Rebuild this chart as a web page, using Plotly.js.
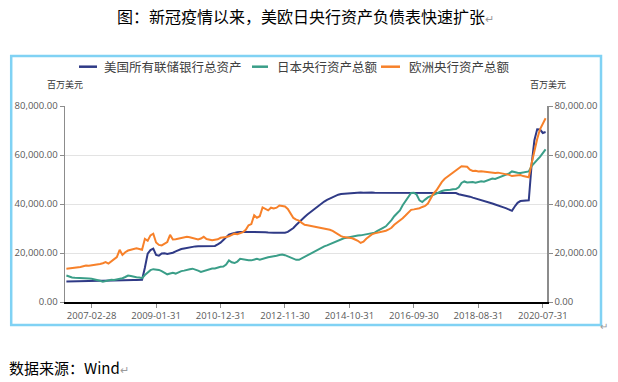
<!DOCTYPE html>
<html><head><meta charset="utf-8">
<script src="https://cdn.plot.ly/plotly-3.0.1.min.js"></script>
<style>html,body{margin:0;padding:0;background:#fff;}#chart{width:618px;height:382px;}</style>
</head><body><div id="chart"></div>
<script>
// Month-end categories 2006-05 .. 2020-08
const months = [];
for (let y = 2006, m = 5; !(y === 2020 && m === 9);) {
  const last = new Date(Date.UTC(y, m, 0)).getUTCDate();
  months.push(y + '-' + String(m).padStart(2, '0') + '-' + String(last).padStart(2, '0'));
  m++; if (m > 12) { m = 1; y++; }
}
const tickLabels = ['2007-02-28','2009-01-31','2010-12-31','2012-11-30','2014-10-31','2016-09-30','2018-08-31','2020-07-31'];
const yTicks = [0, 20000, 40000, 60000, 80000];

const seriesNames = ['美国所有联储银行总资产', '日本央行资产总额', '欧洲央行资产总额'];

const fed = [
  8400, 8450, 8450, 8500, 8500, 8500, 8550, 8600,
  8550, 8600, 8650, 8650, 8700, 8700, 8750, 8800, 8800, 8850, 8850, 8900,
  8900, 8900, 8950, 8950, 9000, 9000, 9050, 9100, 14000, 19700, 21200, 21800,
  19200, 18900, 19800, 19900, 19600, 19700, 20100, 20700, 21300, 21600, 21800, 22100,
  22300, 22500, 22700, 22800, 22800, 22900, 22800, 22800, 22900, 22900, 23500, 24200,
  25300, 26500, 27500, 27900, 28300, 28500, 28600, 28600, 28700, 28600, 28700, 28800,
  28700, 28800, 28600, 28500, 28400, 28500, 28300, 28300, 28200, 28200, 28300, 28600,
  29300, 30200, 31400, 32600, 33600, 34700, 35700, 36600, 37500, 38500, 39500, 40300,
  41000, 41700, 42300, 42800, 43400, 43800, 44100, 44200, 44400, 44500, 44600, 44600,
  44700, 44700, 44600, 44700, 44700, 44700, 44600, 44600, 44700, 44600, 44600, 44700,
  44600, 44700, 44600, 44600, 44700, 44600, 44600, 44700, 44600, 44600, 44600, 44600,
  44600, 44700, 44700, 44700, 44700, 44700, 44700, 44700, 44600, 44600, 44500, 44500,
  44000, 43800, 43600, 43300, 43000, 42600, 42300, 41900, 41500, 41100, 40800, 40500,
  40200, 39800, 39300, 38900, 38600, 38200, 37800, 37200, 39000, 40500, 41200, 41300,
  41200, 41500, 56000, 66000, 70500, 70400, 69000, 69400
];
const boj = [
  10800, 10300, 10000, 9900, 9900, 9800, 9900, 9700,
  9600, 9500, 9300, 9000, 8700, 8300, 8600, 9000, 9100, 9000, 9200, 9500,
  9700, 10200, 10800, 10600, 10200, 10100, 10000, 9700, 11000, 12200, 13000, 13400,
  13300, 13100, 12600, 11800, 11300, 11600, 11900, 11600, 12200, 12600, 12800, 13200,
  13400, 13600, 13300, 12800, 12300, 12600, 13100, 13500, 13700, 13700, 14100, 14400,
  14500, 15300, 17000, 16200, 15900, 16500, 17600, 17400, 16900, 17000, 17000, 17400,
  17600, 17300, 17700, 18000, 18300, 18500, 18600, 18900, 19200, 19400, 19100, 18600,
  18100, 17600, 17200, 17200, 17800, 18600, 19300, 19800, 20400, 21000, 21700, 22200,
  22700, 23100, 23600, 24300, 24800, 25300, 25800, 26000, 26200, 26500, 26700, 26900,
  27100, 27200, 27400, 27600, 27800, 28000, 28300, 29000, 29800, 30300, 30900, 32000,
  33400, 35000, 36100, 37400, 39500, 41200, 43000, 44500, 44600, 43800, 41500, 40800,
  41800, 42700, 43200, 43700, 44500, 45000, 45300, 45600, 45600, 45800, 46000, 46100,
  46800, 48600, 49200, 48800, 48900, 49000, 48700, 48900, 49300, 49100, 49500, 50000,
  50400, 50200, 50600, 51000, 51400, 51800, 52500, 53300, 52900, 52800, 52700, 52800,
  52900, 53300, 55500, 57000, 58000, 59200, 60800, 62300
];
const ecb = [
  13600, 13700, 13700, 13800, 14000, 14300, 14600, 14900,
  14800, 14900, 15000, 15300, 15500, 15800, 16300, 15700, 16500, 17600, 18300, 21300,
  19200, 20300, 21000, 21300, 21700, 21900, 21600, 21300, 25800, 25000, 27200, 27900,
  24300, 23300, 23100, 23700, 24500, 27400, 25500, 25600, 25900, 26100, 26400, 26600,
  26400, 26000, 25900, 25500, 25900, 26600, 25700, 25300, 25200, 25400, 25600, 26200,
  26200, 26500, 26800, 27200, 27900, 27700, 28200, 28500, 29500, 31300, 31800, 35400,
  34400, 35000, 38600, 38000, 37400, 38500, 38200, 38500, 39400, 39200, 39000, 38000,
  36000, 34300, 33600, 33200, 32300, 31500, 31300, 31100, 31000, 30800, 30600, 30400,
  30200, 30000, 29500, 29000, 28200, 27600, 26900, 26500, 26400, 26300, 26000, 25500,
  25000, 24100, 24600, 25800, 26600, 27600, 28000, 28200, 28500, 28800, 29100, 29600,
  30300, 31500, 32300, 33300, 34200, 35300, 36500, 37600, 37800, 37900, 38300, 38800,
  39200, 40200, 42500, 44300, 45500, 47300, 49000, 50300, 51200, 51900, 52700, 53800,
  54500, 55400, 55300, 55200, 54000, 53500, 53600, 53300, 53400, 53200, 53300, 53000,
  52900, 52700, 52800, 52600, 52400, 52300, 51900, 51400, 51600, 51900, 51800, 51400,
  51200, 50900, 56500, 62000, 66500, 70500, 73000, 75000
];
const colors = ['#2f3a86', '#3a9e88', '#f7812a'];

const traces = [
  {x: months, y: fed, name: seriesNames[0], type: 'scatter', mode: 'lines', line: {color: colors[0], width: 2}, showlegend: false, hoverinfo: 'skip'},
  {x: months, y: boj, name: seriesNames[1], type: 'scatter', mode: 'lines', line: {color: colors[1], width: 2}, showlegend: false, hoverinfo: 'skip'},
  {x: months, y: ecb, name: seriesNames[2], type: 'scatter', mode: 'lines', line: {color: colors[2], width: 2}, showlegend: false, hoverinfo: 'skip', yaxis: 'y2'}
];

const W = 618, H = 382, L = 65, R = 71, T = 106, B = 80;
const pw = W - L - R, ph = H - T - B;
const px = v => (v - L) / pw;
const py = v => (H - B - v) / ph;

const tickFont = {family: 'Open Sans, sans-serif', size: 9.5, color: '#595959'};
const cjk = 'Noto Sans CJK SC, sans-serif';
const legFont = {family: cjk, size: 12.5, color: '#404040'};

const yCommon = {
  range: [0, 80000], tickvals: yTicks, tickformat: ',.2f', ticks: 'outside', ticklen: 4,
  tickcolor: '#8c8c8c', showline: true, linecolor: '#8c8c8c', linewidth: 1.5,
  zeroline: false, tickfont: tickFont, fixedrange: true
};

const layout = {
  width: W, height: H,
  margin: {l: L, r: R, t: T, b: B, pad: 0},
  paper_bgcolor: '#ffffff', plot_bgcolor: '#ffffff',
  showlegend: false,
  title: {
    text: '图：新冠疫情以来，美欧日央行资产负债表快速扩张<span style="color:#9a9a9a;font-size:11px">↵</span>',
    x: 117 / W, xanchor: 'left', xref: 'container',
    y: 1 - 17.5 / H, yanchor: 'middle', yref: 'container',
    font: {family: cjk, size: 16, color: '#000000'}
  },
  xaxis: {
    type: 'category', range: [-0.5, months.length - 0.5],
    tickvals: tickLabels, ticktext: tickLabels, ticks: 'outside', ticklen: 4, tickcolor: '#8c8c8c',
    showline: true, linecolor: '#000000', linewidth: 2, showgrid: false, zeroline: false,
    tickfont: tickFont, tickangle: 0, fixedrange: true
  },
  yaxis: Object.assign({}, yCommon, {gridcolor: '#e3e3e3', gridwidth: 1, showgrid: true}),
  yaxis2: Object.assign({}, yCommon, {overlaying: 'y', side: 'right', showgrid: false}),
  shapes: [
    {type: 'rect', xref: 'paper', yref: 'paper', x0: px(11.2), x1: px(601), y0: py(325), y1: py(56),
     line: {color: '#80d2f4', width: 2.5}, fillcolor: 'rgba(0,0,0,0)'},
    {type: 'line', xref: 'paper', yref: 'paper', x0: px(79), x1: px(97), y0: py(66.7), y1: py(66.7), line: {color: colors[0], width: 2.5}},
    {type: 'line', xref: 'paper', yref: 'paper', x0: px(252), x1: px(268), y0: py(66.7), y1: py(66.7), line: {color: colors[1], width: 2.5}},
    {type: 'line', xref: 'paper', yref: 'paper', x0: px(381), x1: px(400), y0: py(66.7), y1: py(66.7), line: {color: colors[2], width: 2.5}}
  ],
  annotations: [
    {text: seriesNames[0], xref: 'paper', yref: 'paper', x: px(102), y: py(67), xanchor: 'left', yanchor: 'middle', showarrow: false, font: legFont},
    {text: seriesNames[1], xref: 'paper', yref: 'paper', x: px(275), y: py(67), xanchor: 'left', yanchor: 'middle', showarrow: false, font: legFont},
    {text: seriesNames[2], xref: 'paper', yref: 'paper', x: px(407), y: py(67), xanchor: 'left', yanchor: 'middle', showarrow: false, font: legFont},
    {text: '百万美元', xref: 'paper', yref: 'paper', x: px(65), y: py(85), xanchor: 'center', yanchor: 'middle', showarrow: false, font: {family: cjk, size: 9, color: '#333333'}},
    {text: '百万美元', xref: 'paper', yref: 'paper', x: px(547.5), y: py(85), xanchor: 'center', yanchor: 'middle', showarrow: false, font: {family: cjk, size: 9, color: '#333333'}},
    {text: '数据来源：Wind<span style="color:#9a9a9a;font-size:11px">↵</span>', xref: 'paper', yref: 'paper', x: px(7), y: py(367), xanchor: 'left', yanchor: 'middle', showarrow: false, font: {family: cjk, size: 15, color: '#000000'}},
    {text: '↵', xref: 'paper', yref: 'paper', x: px(604), y: py(325), xanchor: 'center', yanchor: 'middle', showarrow: false, font: {family: cjk, size: 10, color: '#9a9a9a'}}
  ]
};

Plotly.newPlot('chart', traces, layout, {staticPlot: true, displayModeBar: false});
</script></body></html>
